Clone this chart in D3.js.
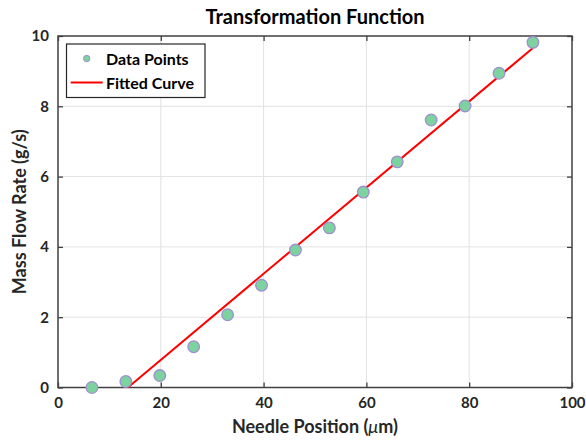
<!DOCTYPE html>
<html><head><meta charset="utf-8">
<script src="https://cdn.jsdelivr.net/npm/d3@7"></script>
<style>body{margin:0;background:#fff;} svg{display:block;font-family:Lato,"Open Sans",sans-serif;}</style>
</head><body>
<svg id="chart" width="586" height="441"></svg>
<script>
const needlePos = [6.6, 13.2, 19.8, 26.4, 33.0, 39.6, 46.2, 52.8, 59.4, 66.0, 72.6, 79.2, 85.8, 92.4];
const flowRate  = [0.0, 0.17, 0.34, 1.16, 2.07, 2.91, 3.91, 4.54, 5.56, 6.42, 7.61, 8.01, 8.94, 9.82];
const fitX = [13.6, 92.4];
const fitY = [0.0, 9.66];
const xTicks = [0, 20, 40, 60, 80, 100];
const yTicks = [0, 2, 4, 6, 8, 10];

const svg = d3.select("#chart");
const L = 58, R = 572, T = 36, B = 387.5;
const x = d3.scaleLinear().domain([0, 100]).range([L, R]);
const y = d3.scaleLinear().domain([0, 10]).range([B, T]);
const axisCol = "#404040";

// grid
const g = svg.append("g");
g.selectAll(".gx").data(xTicks.slice(1, -1)).join("line")
  .attr("x1", d => x(d)).attr("x2", d => x(d)).attr("y1", T).attr("y2", B)
  .attr("stroke", "#e2e2e2").attr("stroke-width", 1);
g.selectAll(".gy").data(yTicks.slice(1, -1)).join("line")
  .attr("y1", d => y(d)).attr("y2", d => y(d)).attr("x1", L).attr("x2", R)
  .attr("stroke", "#e2e2e2").attr("stroke-width", 1);

// axes
const fontTick = "bold 15px Lato";
const xb = svg.append("g").attr("transform", `translate(0,${B})`)
  .call(d3.axisBottom(x).tickValues(xTicks).tickSize(-5).tickPadding(10));
const xt = svg.append("g").attr("transform", `translate(0,${T})`)
  .call(d3.axisTop(x).tickValues(xTicks).tickSize(-5).tickFormat(""));
const yl = svg.append("g").attr("transform", `translate(${L},0)`)
  .call(d3.axisLeft(y).tickValues(yTicks).tickSize(-5).tickPadding(9));
const yr = svg.append("g").attr("transform", `translate(${R},0)`)
  .call(d3.axisRight(y).tickValues(yTicks).tickSize(-5).tickFormat(""));
[xb, xt, yl, yr].forEach(a => {
  a.select(".domain").remove();
  a.selectAll(".tick line").attr("stroke", axisCol).attr("stroke-width", 1.3);
  a.selectAll(".tick text").attr("fill", "#262626").style("font", fontTick);
});
svg.append("rect").attr("x", L).attr("y", T).attr("width", R - L).attr("height", B - T)
  .attr("fill", "none").attr("stroke", axisCol).attr("stroke-width", 1.5);

// fitted curve
const line = d3.line().x(d => x(d[0])).y(d => y(d[1]));
svg.append("path").datum(fitX.map((v, i) => [v, fitY[i]]))
  .attr("d", line).attr("fill", "none").attr("stroke", "#ff0000").attr("stroke-width", 2);

// data points
svg.append("g").selectAll("circle").data(needlePos.map((v, i) => [v, flowRate[i]])).join("circle")
  .attr("cx", d => x(d[0])).attr("cy", d => y(d[1])).attr("r", 5.8)
  .attr("fill", "#7dd3a0").attr("stroke", "#a08fd0").attr("stroke-width", 1.3);

// title
svg.append("text").attr("x", (L + R) / 2).attr("y", 24).attr("text-anchor", "middle")
  .style("font", "bold 20px Lato").attr("fill", "#000").text("Transformation Function");

// axis labels
const xl = svg.append("text").attr("x", (L + R) / 2).attr("y", 433).attr("text-anchor", "middle")
  .style("font", "bold 18px Lato").attr("fill", "#262626");
xl.append("tspan").text("Needle Position (");
xl.append("tspan").style("font-style", "italic").style("font-weight", "normal").text("μ");
xl.append("tspan").text("m)");
svg.append("text").attr("transform", `translate(26,${(T + B) / 2}) rotate(-90)`)
  .attr("text-anchor", "middle").style("font", "bold 18px Lato").attr("fill", "#262626")
  .text("Mass Flow Rate (g/s)");

// legend
const lg = svg.append("g");
lg.append("rect").attr("x", 66.5).attr("y", 44).attr("width", 138.5).attr("height", 53.5)
  .attr("fill", "#fff").attr("stroke", "#262626").attr("stroke-width", 1.2);
lg.append("circle").attr("cx", 86.7).attr("cy", 58.5).attr("r", 3.2)
  .attr("fill", "#7dd3a0").attr("stroke", "#a08fd0").attr("stroke-width", 1);
lg.append("line").attr("x1", 70.7).attr("x2", 102.7).attr("y1", 82.5).attr("y2", 82.5)
  .attr("stroke", "#ff0000").attr("stroke-width", 2);
lg.append("text").attr("x", 106).attr("y", 64.5).style("font", "bold 16px Lato").attr("fill", "#000").text("Data Points");
lg.append("text").attr("x", 106).attr("y", 88.5).style("font", "bold 16px Lato").attr("fill", "#000").text("Fitted Curve");
</script>
</body></html>
